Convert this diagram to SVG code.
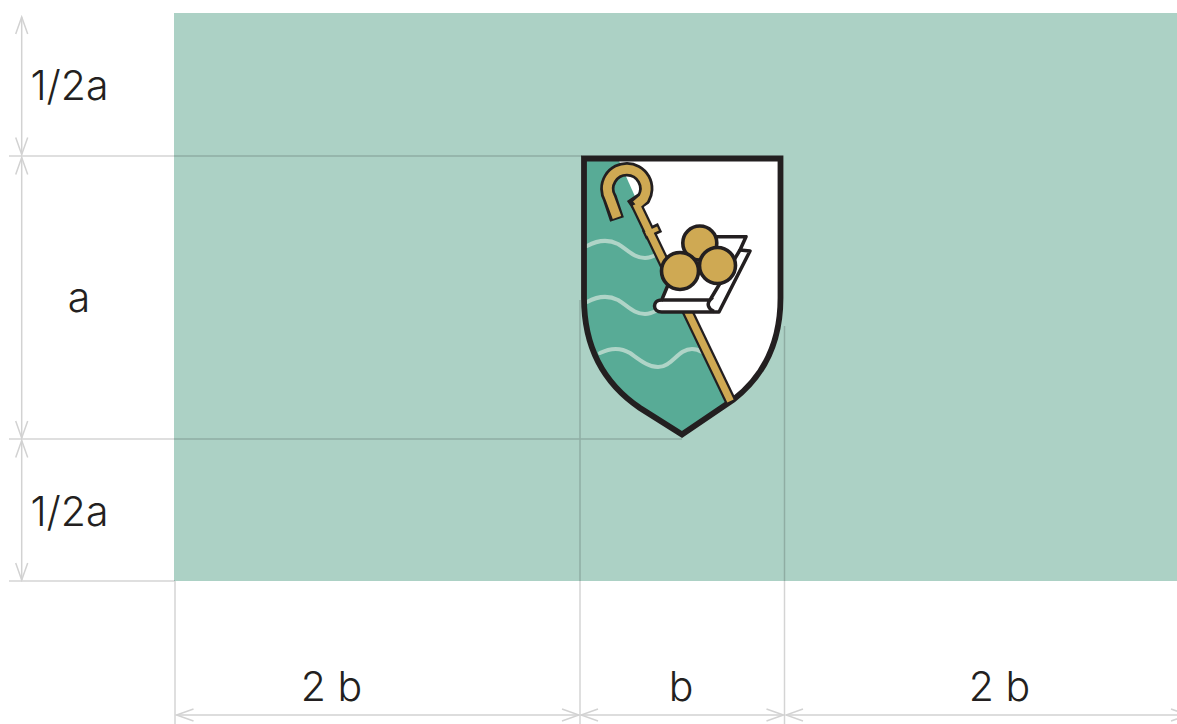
<svg xmlns="http://www.w3.org/2000/svg" width="1177" height="724" viewBox="0 0 1177 724">
<style>
.g{fill:none;stroke:#000;stroke-opacity:.17;stroke-width:1.5}
.d{fill:none;stroke:#d2d2d2;stroke-width:1.5;marker-start:url(#ah);marker-end:url(#ah)}
text{font-family:"Inter","Liberation Sans",sans-serif;font-weight:300;fill:#231f20;font-size:41px;text-anchor:middle}
.w{fill:none;stroke:#afd4c7;stroke-width:4;stroke-linecap:round}
.b{fill:#cfa953;stroke:#231f20;stroke-width:3.6}
</style>
<defs>
<marker id="ah" markerUnits="userSpaceOnUse" markerWidth="20" markerHeight="16" refX="18" refY="8" orient="auto-start-reverse"><path d="M1 2 L18 8 L1 14" fill="none" stroke="#d2d2d2" stroke-width="1.5"/></marker>
</defs>
<rect id="field" x="174" y="13" width="1003" height="568" fill="#acd1c5"/>
<g id="shield">
<path d="M584 158.500H780.500V298C780.500 342 764 376 733 400L682 434.500L640 408C606 385 584 350 584 298Z" fill="#fff"/>
<path d="M584 158.500H618L727 402L682 434.500L640 408C606 385 584 350 584 298Z" fill="#58ab96"/>
<path class="w" d="M587 246C598 240 608 239 618 244C628 250 634 258 645 258C650 258 654 256 658 254"/>
<path class="w" d="M587 302C598 296 608 295 618 300C628 306 634 314 645 314C650 314 654 312 658 310"/>
<path class="w" d="M600 353C610 348 620 347 630 353C640 360 648 367 658 367C672 367 678 349 692 349C696 349 699 350 702 352"/>
<path d="M584 158.500H780.500V298C780.500 342 764 376 733 400L682 434.500L640 408C606 385 584 350 584 298Z" fill="none" stroke="#231f20" stroke-width="5.800"/>
<g fill="none">
<path d="M636 204L731 402" stroke="#231f20" stroke-width="11.500"/>
<path d="M644 235L660 227.500" stroke="#231f20" stroke-width="10"/>
<path d="M617 219.500L609.800 198A19.400 19.400 0 1 1 643.500 198.500L631 207" stroke="#231f20" stroke-width="14.500"/>
<path d="M617 217.500L609.800 198A19.400 19.400 0 1 1 643.500 198.500L636 205" stroke="#cfa953" stroke-width="9"/>
<path d="M636 204L730.500 401" stroke="#cfa953" stroke-width="7"/>
<path d="M646 234L658 228.500" stroke="#cfa953" stroke-width="4.500"/>
</g>
<path d="M668 285L661.700 300C656 300 654.500 304 654.500 306C654.500 309 657 312 661.700 312H719L750 251L740 250L746 236.700H716.700Z" fill="#fff" stroke="#231f20" stroke-width="3.500" stroke-linejoin="round"/>
<path d="M661.700 300H710C707 303 707.500 309 714 311.500M710 300L740 250" fill="none" stroke="#231f20" stroke-width="3.500"/>
<circle class="b" cx="699.800" cy="243" r="17"/>
<circle class="b" cx="680" cy="271" r="18.500"/>
<circle class="b" cx="717.500" cy="265.500" r="18"/>
</g>
<g id="connectors">
<path class="g" d="M9 156H582M9 439H682M9 581H175M175 581V724M580 300V724M784.500 326V724"/>
<path class="d" d="M21.700 17V154.500"/>
<path class="d" d="M21.700 157.500V438"/>
<path class="d" d="M21.700 440.500V580"/>
<path class="d" d="M176.500 715H579"/>
<path class="d" d="M581 715H783.500"/>
<path class="d" d="M786 715H1188"/>
</g>
<g id="labels">
<text x="69.500" y="100">1/2a</text>
<text x="79" y="312">a</text>
<text x="69.500" y="526">1/2a</text>
<text x="331.500" y="701">2 b</text>
<text x="681" y="701">b</text>
<text x="999.500" y="701">2 b</text>
</g>
</svg>
